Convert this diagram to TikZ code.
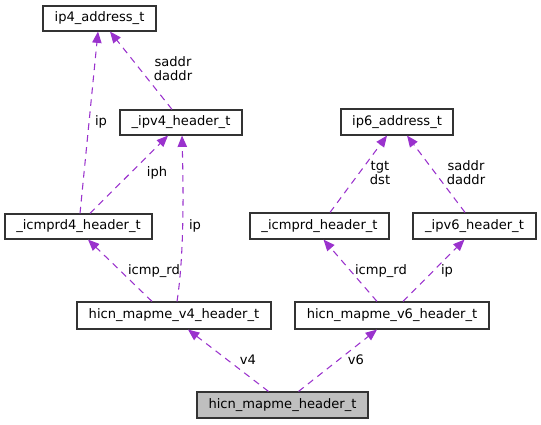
\documentclass[tikz,border=0pt]{standalone}
\usepackage{fontspec}
\setmainfont{DejaVu Sans}
\usetikzlibrary{arrows.meta,calc}
\definecolor{edgecol}{HTML}{9A32CD}
\definecolor{hdrfill}{HTML}{BFBFBF}
\definecolor{boxline}{HTML}{333333}
\tikzset{
  box/.style={draw=boxline, line width=0.85pt, fill=white, inner sep=0pt,
    minimum height=26*0.75pt, font=\fontsize{9.8}{11}\selectfont},
  rel/.style={draw=edgecol, line width=0.8pt, dash pattern=on 5pt off 4pt,
    -{Triangle[length=8.5pt,width=7pt,fill=edgecol]}},
  lbl/.style={inner sep=0pt, align=center, font=\fontsize{9.8}{10.5}\selectfont}
}
\begin{document}
\begin{tikzpicture}[x=0.75pt,y=-0.75pt]
\useasboundingbox (0,0) rectangle (541,424);
% nodes
\node[box, minimum width=113*0.75pt, minimum height=25*0.75pt] (ip4) at (99.5,18.5) {ip4\_address\_t};
\node[box, minimum width=122*0.75pt, minimum height=25*0.75pt] (ipv4) at (181,122.5) {\_ipv4\_header\_t};
\node[box, minimum width=147*0.75pt, minimum height=25*0.75pt] (icmprd4) at (78.5,226.5) {\_icmprd4\_header\_t};
\node[box, minimum width=112*0.75pt] (ip6) at (397,122) {ip6\_address\_t};
\node[box, minimum width=139*0.75pt] (icmprd) at (319.5,226) {\_icmprd\_header\_t};
\node[box, minimum width=123*0.75pt] (ipv6) at (474.5,226) {\_ipv6\_header\_t};
\node[box, minimum width=194*0.75pt, minimum height=27*0.75pt] (v4) at (174,315.5) {hicn\_mapme\_v4\_header\_t};
\node[box, minimum width=194*0.75pt, minimum height=27*0.75pt] (v6) at (392,315.5) {hicn\_mapme\_v6\_header\_t};
\node[box, fill=hdrfill, minimum width=171*0.75pt] (hdr) at (282.5,405) {hicn\_mapme\_header\_t};
% edges
\draw[rel] ($(hdr.north)+(-14,0)$) -- ($(v4.south)+(14,0)$);
\draw[rel] ($(hdr.north)+(16,0)$) -- ($(v6.south)+(-15,0)$);
\draw[rel] ($(v4.north)+(-22,0)$) -- ($(icmprd4.south)+(9.5,0)$);
\draw[rel] ($(v4.north)+(3,0)$) .. controls (185,250) and (183,175) .. ($(ipv4.south)+(1,0)$);
\draw[rel] ($(v6.north)+(-15,0)$) -- ($(icmprd.south)+(4,0)$);
\draw[rel] ($(v6.north)+(11,0)$) -- ($(ipv6.south)+(-10,0)$);
\draw[rel] ($(icmprd4.north)+(1.5,0)$) -- ($(ip4.south)+(-1.5,0)$);
\draw[rel] ($(icmprd4.north)+(11.5,0)$) -- ($(ipv4.south)+(-13,0)$);
\draw[rel] ($(ipv4.north)+(-9,0)$) -- ($(ip4.south)+(10.5,0)$);
\draw[rel] ($(icmprd.north)+(10.5,0)$) -- ($(ip6.south)+(-10,0)$);
\draw[rel] ($(ipv6.north)+(-9.5,0)$) -- ($(ip6.south)+(10,0)$);
% labels
\node[lbl] (l1) at (248,360) {v4};
\node[lbl] (l2) at (356,360) {v6};
\node[lbl] (l3) at (154,271) {icmp\_rd};
\node[lbl] (l4) at (195,226) {ip};
\node[lbl] (l5) at (381,271) {icmp\_rd};
\node[lbl] (l6) at (447,271) {ip};
\node[lbl] (l7) at (101,122) {ip};
\node[lbl] (l8) at (157,173) {iph};
\node[lbl] (l9) at (173,69) {saddr\\daddr};
\node[lbl] (l10) at (380,173) {tgt\\dst};
\node[lbl] (l11) at (466,173) {saddr\\daddr};
\end{tikzpicture}
\end{document}
